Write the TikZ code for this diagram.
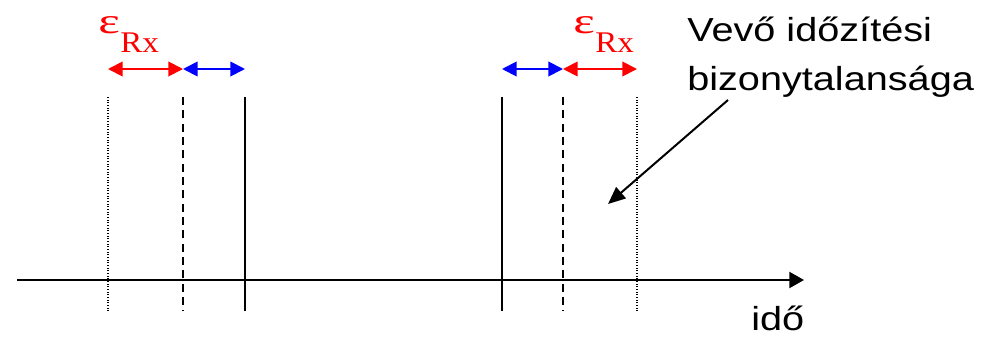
\documentclass[tikz,border=0pt]{standalone}
\usepackage{fontspec}
\setmainfont{Liberation Serif}
\setsansfont{Liberation Sans}
\usetikzlibrary{arrows.meta}
\newcommand{\epsrx}{\fontsize{27}{27}\selectfont\scalebox{1.42}[1]{ε}\kern0.5pt\fontsize{22.5}{22.5}\selectfont\raisebox{-14pt}{\scalebox{1.1}[1]{Rx}}}
\newcommand{\wide}[1]{\scalebox{1.19}[1]{#1}}
\begin{document}
\begin{tikzpicture}[x=0.75pt,y=-0.75pt,
  vline/.style={line width=1.3pt},
  dotline/.style={vline, line width=1.1pt, dash pattern=on 0.6pt off 1.4pt},
  dashline/.style={vline, dash pattern=on 6pt off 4pt},
  redarr/.style={red, line width=1.4pt, {Triangle[length=11pt,width=11pt]}-{Triangle[length=11pt,width=11pt]}},
  bluearr/.style={blue, line width=1.4pt, {Triangle[length=11pt,width=11pt]}-{Triangle[length=11pt,width=11pt]}},
  eps/.style={red, inner sep=0pt, anchor=base west},
  lbl/.style={font=\sffamily\fontsize{25}{29}\selectfont, inner sep=0pt, anchor=base west}
]
\useasboundingbox (0,0) rectangle (999,336);
% vertical lines
\foreach \n/\x in {a/108,b/183,c/245,d/502,e/563,f/637}{
  \coordinate (\n t) at (\x,97);
  \coordinate (\n b) at (\x,311);
  \coordinate (\n m) at (\x,69);
}
\draw[dotline] (at) -- (ab);
\draw[dashline] (bt) -- (bb);
\draw[vline] (ct) -- (cb);
\draw[vline] (dt) -- (db);
\draw[dashline] (et) -- (eb);
\draw[dotline] (ft) -- (fb);
% axis
\coordinate (ax0) at (17,280);
\coordinate (ax1) at (804,280);
\draw[line width=1.6pt, -{Triangle[length=11pt,width=12pt]}] (ax0) -- (ax1);
% top arrows
\draw[redarr] (am) -- (bm);
\draw[bluearr] (bm) -- (cm);
\draw[bluearr] (dm) -- (em);
\draw[redarr] (em) -- (fm);
% epsilon labels
\node[eps] (eps1) at (98,33.5) {\epsrx};
\node[eps] (eps2) at (573,33.5) {\epsrx};
% text
\node[lbl] (t1) at (687,41) {\wide{Vevő időzítési}};
\node[lbl] (t2) at (687,90) {\wide{bizonytalansága}};
\node[lbl] (t3) at (751,330) {\wide{idő}};
% pointer
\coordinate (p0) at (728,100);
\coordinate (p1) at (608,204);
\draw[line width=1.5pt, -{Triangle[length=13pt,width=11pt]}] (p0) -- (p1);
\end{tikzpicture}
\end{document}
